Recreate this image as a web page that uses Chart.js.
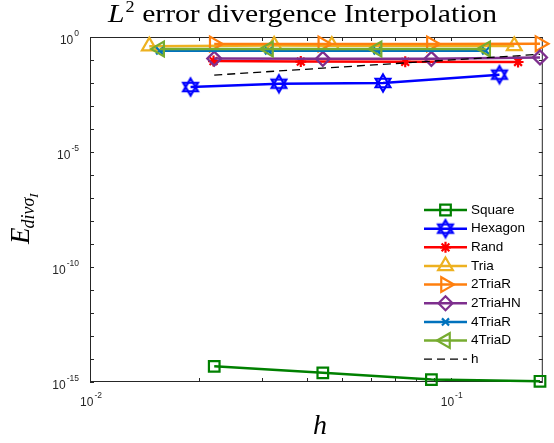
<!DOCTYPE html>
<html>
<head>
<meta charset="utf-8">
<script src="https://cdn.jsdelivr.net/npm/chart.js"></script>
<style>
  body { margin: 0; background: #fff; }
  #wrapper { width: 554px; height: 443px; }
</style>
</head>
<body>
<div id="wrapper"><canvas id="divErr"></canvas></div>
<script>
// mesh size h and L2 interpolation error of the divergence, per mesh family
var hSquare   = [0.0221, 0.0442, 0.0884, 0.1768];
var eSquare   = [4.8e-15, 2.5e-15, 1.27e-15, 1.07e-15];
var hHexagon  = [0.0190, 0.0334, 0.0649, 0.1365];
var eHexagon  = [0.0067, 0.0093, 0.0100, 0.0230];
var hRand     = [0.0220, 0.0384, 0.0748, 0.1537];
var eRand     = [0.090, 0.085, 0.083, 0.082];
var hTria     = [0.0146, 0.0324, 0.0468, 0.150];
var eTria     = [0.40, 0.43, 0.42, 0.41];
var h2TriaR   = [0.0221, 0.0442, 0.0884, 0.1768];
var e2TriaR   = [0.50, 0.50, 0.50, 0.51];
var h2TriaHN  = [0.0221, 0.0442, 0.0884, 0.1768];
var e2TriaHN  = [0.115, 0.112, 0.112, 0.13];
var h4TriaR   = [0.0156, 0.03125, 0.0625, 0.125];
var e4TriaR   = [0.25, 0.25, 0.25, 0.25];
var h4TriaD   = [0.0156, 0.03125, 0.0625, 0.125];
var e4TriaD   = [0.30, 0.30, 0.30, 0.30];
var hLine     = [0.0221, 0.0442, 0.0884, 0.1768];
var eLine     = [0.0221, 0.0442, 0.0884, 0.1768];

var xTickExps = [-2, -1];
var yTickExps = [0, -5, -10, -15];

function hexagram(color) {
    var c = document.createElement('canvas');
    c.width = 22; c.height = 22;
    var g = c.getContext('2d');
    g.strokeStyle = color;
    g.lineWidth = 2.2;
    var r = 8.5;
    [-Math.PI / 2, Math.PI / 2].forEach(function (a0) {
        g.beginPath();
        for (var k = 0; k < 3; k++) {
            var a = a0 + k * 2 * Math.PI / 3;
            var px = 11 + r * Math.cos(a), py = 11 + r * Math.sin(a);
            if (k) g.lineTo(px, py); else g.moveTo(px, py);
        }
        g.closePath();
        g.stroke();
    });
    return c;
}

function pts(xs, ys) {
    return xs.map(function (x, i) { return { x: x, y: ys[i] }; });
}

function series(label, xs, ys, color, style, radius, rotation) {
    return {
        label: label,
        data: pts(xs, ys),
        borderColor: color,
        backgroundColor: 'rgba(0,0,0,0)',
        borderWidth: 2.5,
        pointStyle: style,
        pointRadius: radius,
        pointRotation: rotation || 0,
        pointBorderWidth: 2.2,
        pointBorderColor: color,
        pointBackgroundColor: 'rgba(0,0,0,0)',
        clip: false
    };
}

var datasets = [
    series('Square',  hSquare,  eSquare,  '#008000', 'rect', 7.5),
    series('Hexagon', hHexagon, eHexagon, '#0000FF', hexagram('#0000FF'), 9),
    series('Rand',    hRand,    eRand,    '#FF0000', 'star', 5.5),
    series('Tria',    hTria,    eTria,    '#EDB120', 'triangle', 8.5),
    series('2TriaR',  h2TriaR,  e2TriaR,  '#FF7F0E', 'triangle', 8.5, 90),
    series('2TriaHN', h2TriaHN, e2TriaHN, '#7E2F8E', 'rectRot', 7),
    series('4TriaR',  h4TriaR,  e4TriaR,  '#0072BD', 'crossRot', 5),
    series('4TriaD',  h4TriaD,  e4TriaD,  '#77AC30', 'triangle', 8.5, -90),
    {
        label: 'h',
        data: pts(hLine, eLine),
        borderColor: '#000000',
        borderWidth: 1.3,
        borderDash: [8, 5],
        pointRadius: 0,
        clip: false
    }
];
// later series sit on top of earlier ones
datasets.forEach(function (d, i) { d.order = datasets.length - i; });

var AX = '#262626';

function powLabel(ctx, x, y, exp, align) {
    var base = '10', sup = String(exp);
    ctx.font = '12px "Liberation Sans", Arial, sans-serif';
    var wb = ctx.measureText(base).width;
    ctx.font = '8.5px "Liberation Sans", Arial, sans-serif';
    var ws = ctx.measureText(sup).width;
    var total = wb + 1 + ws;
    var x0 = align === 'right' ? x - total : x - total / 2;
    ctx.textAlign = 'left';
    ctx.textBaseline = 'middle';
    ctx.font = '12px "Liberation Sans", Arial, sans-serif';
    ctx.fillText(base, x0, y + 4);
    ctx.font = '8.5px "Liberation Sans", Arial, sans-serif';
    ctx.fillText(sup, x0 + wb + 1, y - 3.5);
}

var frame = {
    id: 'frame',
    beforeDatasetsDraw: function (chart) {
        var ctx = chart.ctx, a = chart.chartArea;
        var xs = chart.scales.x, ys = chart.scales.y;
        ctx.save();
        ctx.strokeStyle = AX;
        ctx.lineWidth = 1;
        ctx.strokeRect(a.left + 0.5, a.top + 0.5, a.right - a.left - 1, a.bottom - a.top - 1);
        var tl = 4;
        ctx.beginPath();
        for (var e = 0; e >= -15; e--) {
            var py = Math.round(ys.getPixelForValue(Math.pow(10, e))) + 0.5;
            ctx.moveTo(a.left, py); ctx.lineTo(a.left + tl, py);
            ctx.moveTo(a.right, py); ctx.lineTo(a.right - tl, py);
        }
        for (var d = -2; d <= -1; d++) {
            for (var m = 1; m <= 9; m++) {
                var v = m * Math.pow(10, d);
                if (v > xs.max) break;
                var px = Math.round(xs.getPixelForValue(v)) + 0.5;
                ctx.moveTo(px, a.bottom); ctx.lineTo(px, a.bottom - tl);
                ctx.moveTo(px, a.top); ctx.lineTo(px, a.top + tl);
            }
        }
        ctx.stroke();

        ctx.fillStyle = AX;
        yTickExps.forEach(function (e) {
            powLabel(ctx, 79, ys.getPixelForValue(Math.pow(10, e)), e, 'right');
        });
        xTickExps.forEach(function (e) {
            powLabel(ctx, xs.getPixelForValue(Math.pow(10, e)) + 1, a.bottom + 17, e, 'center');
        });
        ctx.restore();
    },
    afterDraw: function (chart) {
        var ctx = chart.ctx;
        ctx.save();
        ctx.fillStyle = '#000';
        ctx.textBaseline = 'alphabetic';
        ctx.textAlign = 'left';

        // title: L^2 error divergence Interpolation, stretched to its span
        var rest = ' error divergence Interpolation';
        ctx.font = 'italic 26px "Liberation Serif", serif';
        var wL = ctx.measureText('L').width + 1;
        ctx.font = '16px "Liberation Serif", serif';
        var w2 = ctx.measureText('2').width;
        ctx.font = '26px "Liberation Serif", serif';
        var wR = ctx.measureText(rest).width;
        var k = 389 / (wL + w2 + wR);
        ctx.save();
        ctx.translate(108, 22);
        ctx.scale(k, 1);
        ctx.font = 'italic 26px "Liberation Serif", serif';
        ctx.fillText('L', 0, 0);
        ctx.font = '16px "Liberation Serif", serif';
        ctx.fillText('2', wL, -10);
        ctx.font = '26px "Liberation Serif", serif';
        ctx.fillText(rest, wL + w2, 0);
        ctx.restore();

        // x axis title
        ctx.font = 'italic 28px "Liberation Serif", serif';
        ctx.textAlign = 'center';
        ctx.fillText('h', 320, 434);

        // y axis title: E_{div sigma_I}
        ctx.save();
        ctx.translate(29, 244);
        ctx.rotate(-Math.PI / 2);
        ctx.textAlign = 'left';
        ctx.font = 'italic 27px "Liberation Serif", serif';
        ctx.fillText('E', 0, 0);
        var sx = ctx.measureText('E').width - 1;
        ctx.font = 'italic 18px "Liberation Serif", serif';
        ctx.fillText('div\u03C3', sx, 5);
        sx += ctx.measureText('div\u03C3').width;
        ctx.font = 'italic 13px "Liberation Serif", serif';
        ctx.fillText('I', sx, 9);
        ctx.restore();

        // legend
        var ly = 210, step = 18.65, lx0 = 424, lx1 = 467;
        var H = Chart.helpers;
        chart.data.datasets.forEach(function (d, i) {
            var y = ly + i * step;
            ctx.save();
            ctx.strokeStyle = d.borderColor;
            ctx.lineWidth = d.borderWidth;
            ctx.setLineDash(d.borderDash || []);
            ctx.beginPath();
            ctx.moveTo(lx0, y); ctx.lineTo(lx1, y);
            ctx.stroke();
            ctx.setLineDash([]);
            if (d.pointRadius > 0) {
                ctx.fillStyle = 'rgba(0,0,0,0)';
                ctx.lineWidth = 2.2;
                H.drawPoint(ctx, {
                    pointStyle: d.pointStyle,
                    rotation: d.pointRotation,
                    radius: d.pointRadius,
                    borderWidth: 2.2
                }, (lx0 + lx1) / 2, y);
            }
            ctx.restore();
            ctx.fillStyle = '#000';
            ctx.font = '13.5px "Liberation Sans", Arial, sans-serif';
            ctx.textBaseline = 'middle';
            ctx.textAlign = 'left';
            ctx.fillText(d.label, 471, y);
        });
        ctx.restore();
    }
};

new Chart('divErr', {
    type: 'line',
    data: { datasets: datasets },
    options: {
        responsive: true,
        maintainAspectRatio: false,
        animation: false,
        layout: { padding: { top: 37, right: 4, left: 0, bottom: 0 } },
        plugins: {
            legend: { display: false },
            title: { display: false },
            tooltip: { enabled: false }
        },
        scales: {
            x: {
                type: 'logarithmic',
                min: 0.01,
                max: 0.18,
                grid: { display: false },
                border: { display: false },
                ticks: { display: false },
                afterFit: function (s) { s.height = 61; }
            },
            y: {
                type: 'logarithmic',
                min: 1e-15,
                max: 1,
                grid: { display: false },
                border: { display: false },
                ticks: { display: false },
                afterFit: function (s) { s.width = 90; }
            }
        }
    },
    plugins: [frame]
});
</script>
</body>
</html>
